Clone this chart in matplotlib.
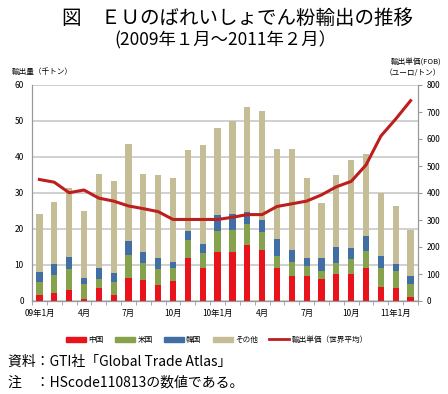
import numpy as np
import matplotlib.pyplot as plt
from matplotlib.patches import Patch
from matplotlib.lines import Line2D

plt.rcParams['font.family'] = ['Noto Sans CJK JP', 'DejaVu Sans']

# Monthly data, Jan 2009 - Feb 2011 (thousand tonnes)
months = ['09年1月', '', '', '4月', '', '', '7月', '', '', '10月', '', '',
          '10年1月', '', '', '4月', '', '', '7月', '', '', '10月', '', '',
          '11年1月', '']
china = [1.7, 2.1, 3.1, 0.6, 3.6, 1.8, 6.4, 5.8, 4.4, 5.6, 12.0, 9.1,
         13.5, 13.7, 15.6, 14.2, 9.1, 7.0, 7.0, 6.1, 7.5, 7.5, 9.3, 3.8,
         3.6, 1.2]
usa = [3.7, 5.0, 5.7, 4.1, 2.6, 3.4, 6.4, 4.8, 4.4, 3.5, 5.0, 4.1,
       6.0, 6.1, 5.8, 5.0, 3.4, 3.7, 2.8, 2.1, 3.1, 4.2, 4.5, 5.5,
       4.6, 3.4]
korea = [2.6, 3.1, 3.3, 1.7, 3.1, 2.5, 4.0, 3.0, 3.2, 1.8, 2.4, 2.6,
         4.4, 4.3, 3.4, 3.4, 4.8, 3.5, 2.2, 3.7, 4.4, 3.0, 4.2, 3.2,
         2.2, 2.3]
other = [16.1, 17.2, 19.4, 18.5, 26.0, 25.5, 26.8, 21.8, 22.9, 23.2, 22.6, 27.5,
         24.1, 25.9, 29.2, 30.3, 24.8, 28.0, 22.1, 15.2, 20.1, 24.4, 22.8, 17.5,
         16.0, 12.8]
# export unit price, world average (EUR/t)
price = [450, 440, 401, 411, 381, 370, 352, 342, 331, 302, 302, 302,
         302, 310, 320, 320, 350, 360, 370, 393, 423, 443, 504, 611,
         674, 742]

c_china = '#E8131B'
c_usa = '#87A24C'
c_korea = '#416FA3'
c_other = '#C5BD96'
c_line = '#BD1E1E'

fig = plt.figure(figsize=(4.48, 3.94), dpi=100)
ax = fig.add_axes([32/448, 1-301/394, 386/448, 216/394])

x = np.arange(len(months))
w = 0.42
b1 = np.array(china)
b2 = b1 + np.array(usa)
b3 = b2 + np.array(korea)
ax.bar(x, china, w, color=c_china, zorder=3)
ax.bar(x, usa, w, bottom=b1, color=c_usa, zorder=3)
ax.bar(x, korea, w, bottom=b2, color=c_korea, zorder=3)
ax.bar(x, other, w, bottom=b3, color=c_other, zorder=3)

ax.set_xlim(-0.45, len(months) - 0.55)
ax.set_ylim(0, 60)
ax.set_yticks(np.arange(0, 61, 10))
ax.grid(axis='y', color='#C8C8C8', linewidth=1.2, zorder=0)
ax.set_axisbelow(True)

ax.set_xticks(x)
ax.set_xticklabels(months, fontsize=6)
ax.tick_params(axis='x', length=0, pad=6)
ax.set_xticks(np.arange(-0.5, len(months)), minor=True)
ax.tick_params(axis='x', which='minor', length=3, color='#999999')
ax.tick_params(axis='y', labelsize=6, length=0, pad=6)

ax.spines['top'].set_visible(False)
for s in ['left', 'right', 'bottom']:
    ax.spines[s].set_color('#999999')

ax2 = ax.twinx()
ax2.plot(x, price, color=c_line, linewidth=2.2, zorder=5)
ax2.set_ylim(0, 800)
ax2.set_yticks(np.arange(0, 801, 100))
ax2.tick_params(axis='y', labelsize=6, length=3, color='#999999', pad=3)
ax2.spines['top'].set_visible(False)
for s in ['left', 'right', 'bottom']:
    ax2.spines[s].set_color('#999999')

# titles
fig.text(237/448, 1-18/394, '図　ＥＵのばれいしょでん粉輸出の推移', ha='center', va='center', fontsize=14)
fig.text(225/448, 1-40/394, '(2009年１月～2011年２月）', ha='center', va='center', fontsize=12.5)
fig.text(12/448, 1-72/394, '輸出量（千トン）', ha='left', va='center', fontsize=5.5)
fig.text(441/448, 1-62/394, '輸出単価(FOB)', ha='right', va='center', fontsize=5.5)
fig.text(441/448, 1-73/394, '（ユーロ/トン）', ha='right', va='center', fontsize=5.5)

handles = [Patch(color=c_china, label='中国'),
           Patch(color=c_usa, label='米国'),
           Patch(color=c_korea, label='韓国'),
           Patch(color=c_other, label='その他'),
           Line2D([], [], color=c_line, linewidth=2, label='輸出単価（世界平均）')]
fig.legend(handles=handles, loc='center', bbox_to_anchor=(217/448, 1-340/394), ncol=5,
           frameon=False, fontsize=5.5, handlelength=2.6, handleheight=0.6,
           columnspacing=1.5, handletextpad=0.3)

fig.text(8/448, 1-362/394, '資料：GTI社「Global Trade Atlas」', ha='left', va='center', fontsize=10)
fig.text(8/448, 1-383/394, '注　：HScode110813の数値である。', ha='left', va='center', fontsize=10)

fig.savefig('out.png', dpi=100)
